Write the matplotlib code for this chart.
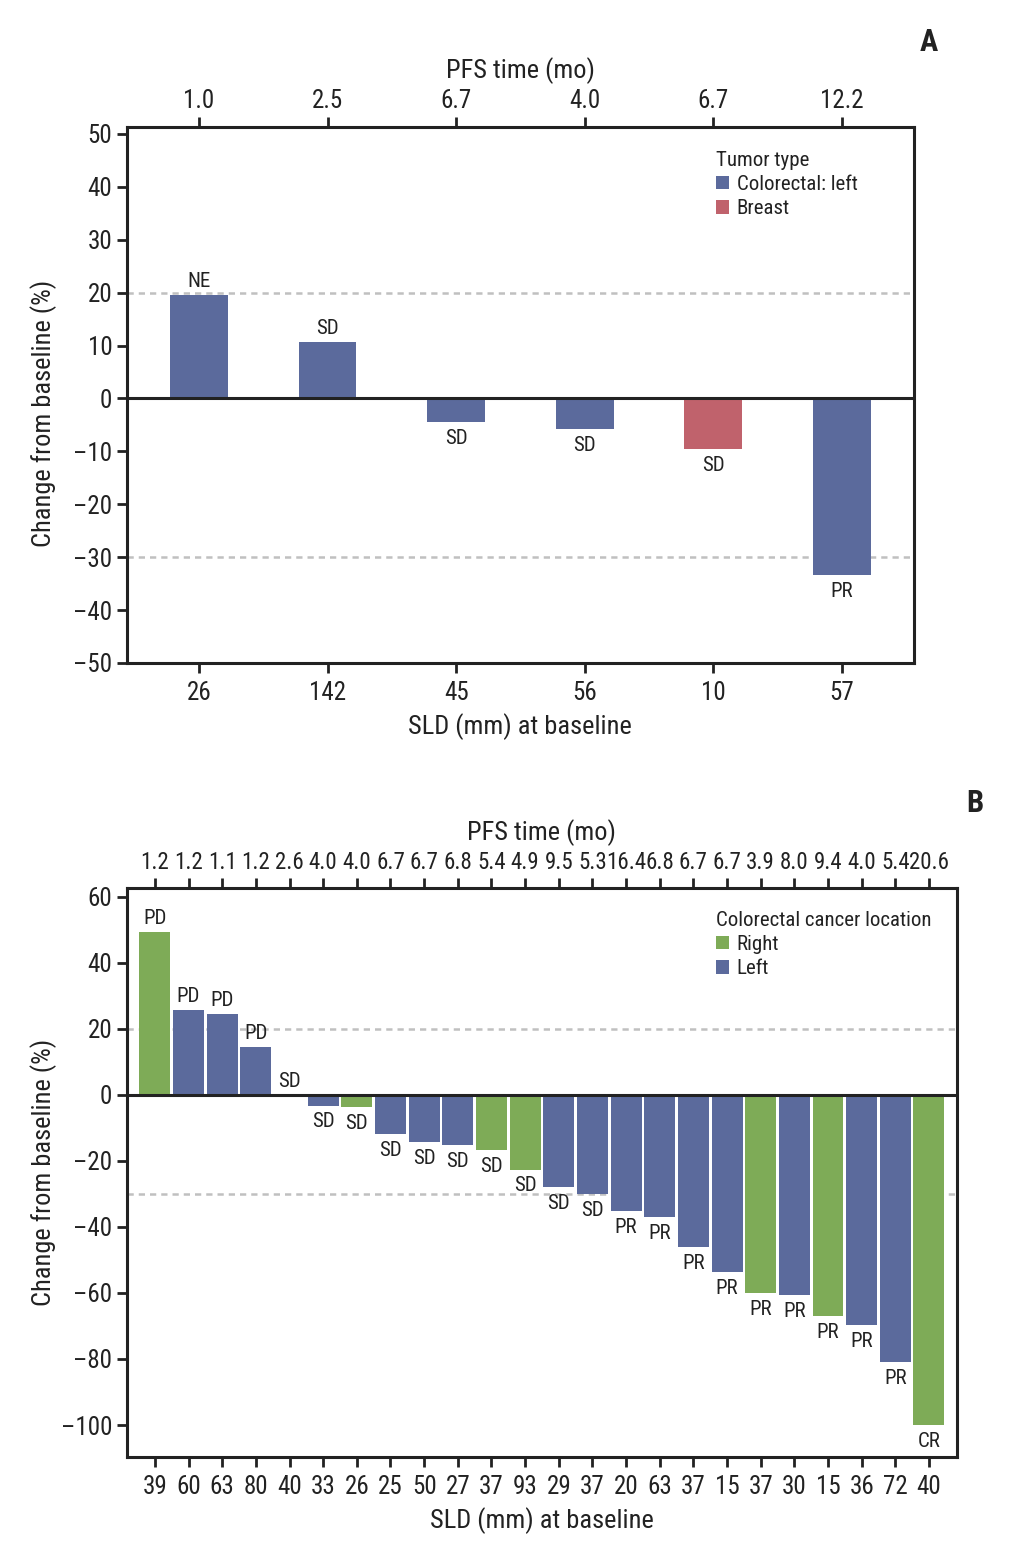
import matplotlib
matplotlib.use("Agg")
import matplotlib.pyplot as plt
from matplotlib.patches import Patch
from matplotlib import font_manager as fm
import numpy as np

_avail = {f.name for f in fm.fontManager.ttflist}
_prefs = ['Roboto Condensed', 'Archivo Narrow', 'PT Sans Narrow',
          'Liberation Sans Narrow', 'Fira Sans Condensed', 'Sofia Sans Condensed',
          'IBM Plex Sans Condensed', 'Open Sans Condensed', 'Barlow Condensed']
FONT = next((p for p in _prefs if p in _avail), 'DejaVu Sans')
plt.rcParams['font.family'] = [FONT, 'DejaVu Sans']

# ---------------- Panel A data ----------------
a_change = [19.5, 10.6, -4.5, -5.7, -9.6, -33.3]
a_response = ["NE", "SD", "SD", "SD", "SD", "PR"]
a_type = ["Colorectal: left", "Colorectal: left", "Colorectal: left",
          "Colorectal: left", "Breast", "Colorectal: left"]
a_sld = ["26", "142", "45", "56", "10", "57"]
a_pfs = ["1.0", "2.5", "6.7", "4.0", "6.7", "12.2"]

# ---------------- Panel B data ----------------
b_change = [49.4, 25.8, 24.5, 14.5, 0.0, -3.2, -3.8, -11.7, -14.2, -15.2,
            -16.6, -22.6, -27.9, -30.0, -35.2, -37.0, -46.0, -53.6, -60.0,
            -60.6, -67.0, -69.7, -80.9, -100.0]
b_response = ["PD", "PD", "PD", "PD", "SD", "SD", "SD", "SD", "SD", "SD",
              "SD", "SD", "SD", "SD", "PR", "PR", "PR", "PR", "PR", "PR",
              "PR", "PR", "PR", "CR"]
b_location = ["Right", "Left", "Left", "Left", "Left", "Left", "Right", "Left",
              "Left", "Left", "Right", "Right", "Left", "Left", "Left", "Left",
              "Left", "Left", "Right", "Left", "Right", "Left", "Left", "Right"]
b_sld = ["39", "60", "63", "80", "40", "33", "26", "25", "50", "27", "37", "93",
         "29", "37", "20", "63", "37", "15", "37", "30", "15", "36", "72", "40"]
b_pfs = ["1.2", "1.2", "1.1", "1.2", "2.6", "4.0", "4.0", "6.7", "6.7", "6.8",
         "5.4", "4.9", "9.5", "5.3", "16.4", "6.8", "6.7", "6.7", "3.9", "8.0",
         "9.4", "4.0", "5.4", "20.6"]

BLUE = "#5b6a9c"
GREEN = "#7eab57"
RED = "#c0626c"
TXT = "#222222"

a_colors = {"Colorectal: left": BLUE, "Breast": RED}
b_colors = {"Right": GREEN, "Left": BLUE}

fig = plt.figure(figsize=(10.14, 15.53), dpi=100)

TICK_FS = 18
LABEL_FS = 19
BAR_FS = 15
LEG_FS = 15


def style_axes(ax, top, top_fs):
    for s in ax.spines.values():
        s.set_linewidth(2.2)
        s.set_color(TXT)
    ax.tick_params(axis='both', direction='out', length=7, width=2,
                   labelsize=TICK_FS, colors=TXT)
    ax.tick_params(axis='x', pad=6)
    top.tick_params(axis='x', direction='out', length=7, width=2,
                    labelsize=top_fs, colors=TXT, pad=3)


def panel(ax, change, resp, colors, sld, pfs, ylim, yticks, width, xpad,
          legend_title, legend_items, leg_anchor, ylab_xy, top_fs):
    n = len(change)
    x = np.arange(n)
    ax.bar(x, change, width=width, color=colors, zorder=2)
    ax.axhline(0, color=TXT, lw=2.2, zorder=3)
    ax.axhline(20, color="#c0c0c0", lw=1.8, ls=(0, (2.5, 2)), zorder=1)
    ax.axhline(-30, color="#c0c0c0", lw=1.8, ls=(0, (2.5, 2)), zorder=1)
    for xi, v, r in zip(x, change, resp):
        if v >= 0:
            ax.annotate(r, (xi, v), xytext=(0, 3), textcoords='offset points',
                        ha='center', va='bottom', fontsize=BAR_FS, color=TXT)
        else:
            ax.annotate(r, (xi, v), xytext=(0, -5), textcoords='offset points',
                        ha='center', va='top', fontsize=BAR_FS, color=TXT)
    ax.set_xlim(-xpad, n - 1 + xpad)
    ax.set_ylim(*ylim)
    ax.set_yticks(yticks)
    ax.set_yticklabels([f"{t}".replace("-", "\u2013") for t in yticks])
    ax.set_xticks(x)
    ax.set_xticklabels(sld)
    ax.set_xlabel("SLD (mm) at baseline", fontsize=LABEL_FS, color=TXT,
                  labelpad=6)
    ax.set_ylabel("Change from baseline (%)", fontsize=LABEL_FS, color=TXT)
    ax.yaxis.set_label_coords(*ylab_xy)
    top = ax.secondary_xaxis('top')
    top.set_xticks(x)
    top.set_xticklabels(pfs)
    top.set_xlabel("PFS time (mo)", fontsize=LABEL_FS, color=TXT, labelpad=8)
    style_axes(ax, top, top_fs)
    handles = [Patch(facecolor=c, edgecolor='none', label=l)
               for l, c in legend_items]
    leg = ax.legend(handles=handles, title=legend_title, loc='upper left',
                    bbox_to_anchor=leg_anchor, bbox_transform=fig.transFigure,
                    frameon=False, fontsize=LEG_FS, title_fontsize=LEG_FS,
                    handlelength=0.6, handleheight=0.6, handletextpad=0.4,
                    labelspacing=0.25, borderaxespad=0, borderpad=0)
    leg._legend_box.align = "left"
    for t in leg.get_texts():
        t.set_color(TXT)
    leg.get_title().set_color(TXT)


axA = fig.add_axes([0.1252, 0.5731, 0.7761, 0.3451])
panel(axA, a_change, a_response, [a_colors[t] for t in a_type], a_sld, a_pfs,
      (-50, 51.3), list(range(-50, 51, 10)), 0.45, 0.56, "Tumor type",
      [("Colorectal: left", BLUE), ("Breast", RED)],
      (716 / 1014, 1 - 151 / 1553), (-0.089, 0.465), TICK_FS)

axB = fig.add_axes([0.1252, 0.0618, 0.8185, 0.3664])
panel(axB, b_change, b_response, [b_colors[t] for t in b_location], b_sld,
      b_pfs, (-109.7, 62.7), list(range(-100, 61, 20)), 0.92, 0.83,
      "Colorectal cancer location", [("Right", GREEN), ("Left", BLUE)],
      (716 / 1014, 1 - 911 / 1553), (-0.084, 0.5), 16.5)

fig.text(929 / 1014, 1 - 42 / 1553, "A", fontsize=22, fontweight='bold',
         ha='center', va='center', color=TXT)
fig.text(975 / 1014, 1 - 803 / 1553, "B", fontsize=22, fontweight='bold',
         ha='center', va='center', color=TXT)

fig.savefig("out.png", dpi=100)
